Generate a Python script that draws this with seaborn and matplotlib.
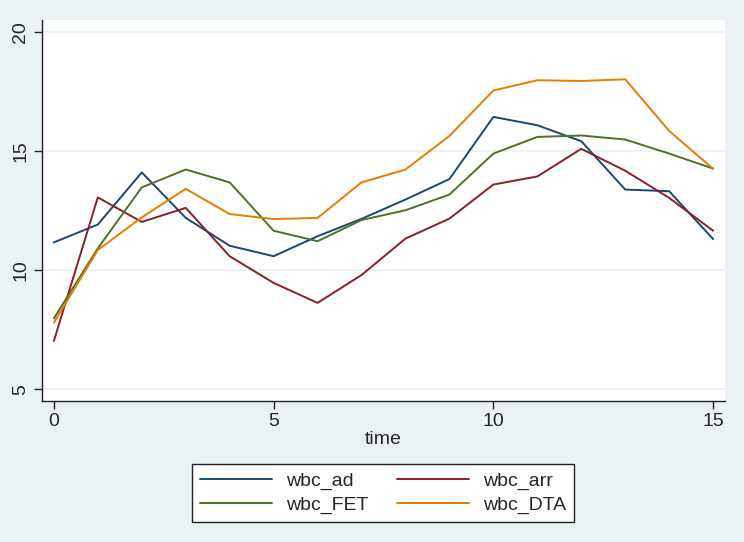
import numpy as np
import pandas as pd
import matplotlib
matplotlib.use("Agg")
import matplotlib.pyplot as plt
import seaborn as sns

# values
time = list(range(16))
wbc_ad = [11.16, 11.91, 14.10, 12.19, 11.02, 10.58, 11.42, 12.15, 12.96, 13.82,
          16.43, 16.08, 15.41, 13.38, 13.31, 11.30]
wbc_arr = [7.02, 13.05, 12.02, 12.61, 10.58, 9.46, 8.62, 9.79, 11.32, 12.16,
           13.59, 13.93, 15.09, 14.17, 13.03, 11.65]
wbc_FET = [7.97, 10.91, 13.47, 14.22, 13.68, 11.65, 11.21, 12.10, 12.51, 13.17,
           14.89, 15.59, 15.65, 15.48, 14.89, 14.26]
wbc_DTA = [7.79, 10.84, 12.21, 13.41, 12.35, 12.14, 12.19, 13.68, 14.22, 15.63,
           17.54, 17.97, 17.94, 18.01, 15.84, 14.25]

series_names = ["wbc_ad", "wbc_arr", "wbc_FET", "wbc_DTA"]
colors = ["#1a476f", "#8b1e26", "#4e7124", "#e37e00"]

df = pd.DataFrame({"time": time, "wbc_ad": wbc_ad, "wbc_arr": wbc_arr,
                   "wbc_FET": wbc_FET, "wbc_DTA": wbc_DTA})
long_df = df.melt(id_vars="time", var_name="series", value_name="value")

sns.set_style("white")
plt.rcParams['font.family'] = ['Liberation Sans', 'DejaVu Sans']

bg = "#eaf2f3"
fig = plt.figure(figsize=(7.44, 5.42), dpi=100, facecolor=bg)
ax = fig.add_axes([42 / 744, 1 - 401 / 542, (725 - 42) / 744, (401 - 20) / 542])
ax.set_facecolor("white")

sns.lineplot(data=long_df, x="time", y="value", hue="series",
             hue_order=series_names, palette=colors, linewidth=1.4,
             legend=False, ax=ax)

ax.set_xlim(-0.27, 15.27)
ax.set_ylim(4.5, 20.5)
ax.set_xticks([0, 5, 10, 15])
ax.set_yticks([5, 10, 15, 20])
ax.yaxis.grid(True, color=bg, linewidth=1.3)
ax.set_axisbelow(True)

for side in ["top", "right"]:
    ax.spines[side].set_visible(False)
for side in ["left", "bottom"]:
    ax.spines[side].set_color("#222222")
    ax.spines[side].set_linewidth(1.0)

ax.tick_params(axis="both", direction="out", length=6, width=1.0,
               color="#222222", labelsize=14, pad=3,
               bottom=True, left=True)
for lbl in ax.get_yticklabels():
    lbl.set_rotation(90)
    lbl.set_va("center")
ax.set_xlabel("time", fontsize=14, labelpad=0)
ax.set_ylabel("")

# stata fills the legend row by row
order = [0, 2, 1, 3]
handles = [plt.Line2D([], [], color=colors[i], linewidth=1.4) for i in order]
labels = [series_names[i] for i in order]
leg = fig.legend(handles, labels, loc="upper center",
                 bbox_to_anchor=(383 / 744, 1 - 464 / 542), ncol=2,
                 fontsize=14, frameon=True, fancybox=False, borderaxespad=0,
                 framealpha=1, handlelength=3.7, handletextpad=0.7,
                 columnspacing=1.5, labelspacing=0.35, borderpad=0.4)
leg.get_frame().set_edgecolor("#222222")
leg.get_frame().set_linewidth(1.0)
leg.get_frame().set_facecolor("white")

fig.savefig("out.png", dpi=100, facecolor=bg)
